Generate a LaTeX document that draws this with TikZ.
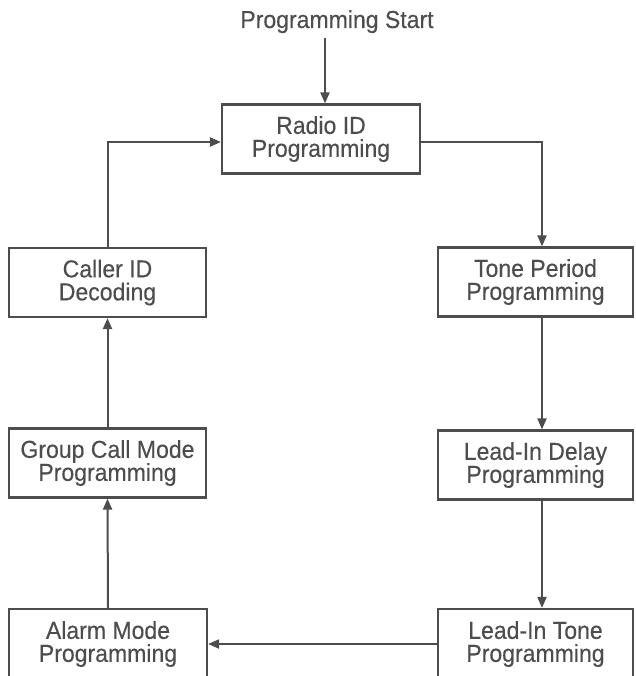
\documentclass[tikz,border=0pt]{standalone}
\usepackage{fontspec}
\setmainfont{Liberation Sans}[FakeStretch=0.94,FakeBold=0.3]
\usetikzlibrary{arrows.meta}
\definecolor{ink}{HTML}{4D4D4D}
\begin{document}
\begin{tikzpicture}[x=1pt,y=-1pt,
  font=\fontsize{24.5}{23}\selectfont,
  box/.style={draw=ink,line width=2.2pt,text=ink,align=center,inner sep=0pt,
    minimum width=#1,minimum height=69pt},
  box/.default=197pt,
  arr/.style={draw=ink,line width=2pt,-{Triangle[length=11pt,width=9pt]}},
  ln/.style={draw=ink,line width=2pt}]
\useasboundingbox (0,0) rectangle (635,676);
\node[text=ink,anchor=base] (start) at (337,28) {Programming Start};
\node[box=198pt] (radio) at (321,139) {Radio ID\\Programming};
\node[box=195pt] (tone) at (535.5,282) {Tone Period\\Programming};
\node[box=195pt] (delay) at (535.5,465) {Lead-In Delay\\Programming};
\node[box=195pt,minimum height=70pt] (ltone) at (535.5,644) {Lead-In Tone\\Programming};
\node[box=198pt,minimum height=70pt] (alarm) at (108,644) {Alarm Mode\\Programming};
\node[box] (group) at (107.5,463) {Group Call Mode\\Programming};
\node[box] (caller) at (107.5,282.5) {Caller ID\\Decoding};
\coordinate (s) at (325,38);
\coordinate (rc) at (542,0);
\coordinate (ry) at (0,142);
\draw[arr] (s) -- (s |- radio.north);
\draw[arr] (radio.east |- ry) -| (rc |- tone.north);
\draw[arr] (rc |- tone.south) -- (rc |- delay.north);
\draw[arr] (rc |- delay.south) -- (rc |- ltone.north);
\draw[arr] (ltone.west) -- (alarm.east);
\draw[arr] (alarm.north) -- (group.south);
\draw[arr] (group.north) -- (caller.south);
\draw[arr] (caller.north) |- (radio.west |- ry);
\end{tikzpicture}
\end{document}
